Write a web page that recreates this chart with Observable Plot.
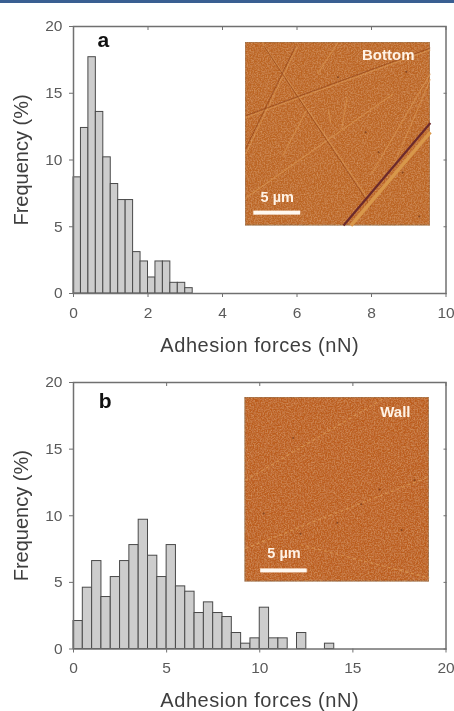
<!DOCTYPE html>
<html><head><meta charset="utf-8">
<script src="https://cdn.jsdelivr.net/npm/d3@7"></script>
<script src="https://cdn.jsdelivr.net/npm/@observablehq/plot@0.6"></script>
<style>
html,body{margin:0;padding:0;background:#fff;overflow:hidden}
#band{position:absolute;left:0;top:0;width:454px;height:3px;background:#3a5f92}
#charts svg{display:block;filter:blur(.45px);overflow:visible}
</style></head><body>
<div id="band"></div>
<svg width="0" height="0" style="position:absolute"><defs>
<filter id="grain" x="0" y="0" width="100%" height="100%">
<feTurbulence type="fractalNoise" baseFrequency="0.7" numOctaves="2" seed="4" result="n"/>
<feColorMatrix in="n" type="matrix" values="0 0 0 0 .88  0 0 0 0 .52  0 0 0 0 .24  .9 0 0 0 -.36" result="g"/>
<feColorMatrix in="n" type="matrix" values="0 0 0 0 .55  0 0 0 0 .22  0 0 0 0 .05  0 .9 0 0 -.36" result="h"/>
<feMerge><feMergeNode in="SourceGraphic"/><feMergeNode in="g"/><feMergeNode in="h"/></feMerge>
</filter></defs></svg>
<div id="charts"></div>
<script>
const xLabel = "Adhesion forces (nN)";
const yLabel = "Frequency (%)";
const yTicks = [0, 5, 10, 15, 20];

const xTicksA = [0, 2, 4, 6, 8, 10];
const binWidthA = 0.2;
const freqA = [8.7, 12.4, 17.7, 13.6, 10.2, 8.2, 7.0, 7.0, 3.1, 2.4, 1.2, 2.4, 2.4, 0.8, 0.8, 0.4];

const xTicksB = [0, 5, 10, 15, 20];
const binWidthB = 0.5;
const freqB = [2.1, 4.6, 6.6, 3.9, 5.4, 6.6, 7.8, 9.7, 7.0, 5.4, 7.8, 4.7, 4.3, 2.7, 3.5, 2.7, 2.4, 1.2, 0.4, 0.8, 3.1, 0.8, 0.8, 0, 1.2, 0, 0, 0.4];

// inset extents in data units: [x1, x2, y1, y2]
const insetA = [4.62, 9.58, 5.09, 18.8];
const insetB = [9.23, 19.1, 5.06, 18.87];

// scratches on the micrographs, as fractions of the inset: [fx1, fy1, fx2, fy2] (fy from top)
const scratchesDarkA = [[0,.40,1,.03],[.1,.02,.68,.9],[.0,.58,.27,.02]];
const scratchesLightA = [[0,.41,1,.04],[0,.85,.8,.28],[.09,0,.66,.85],[.68,.72,1,.17],[.79,.7,1,.2],[.39,.17,.5,0],[.55,.3,.52,.47],[.45,.37,.46,.44],[0,.61,.28,.02],[.2,.62,.33,.37]];
const grooveDarkA = [[.53,1,1,.44]];
const grooveLightA = [[.57,1,1,.49]];
const blobsA = [[.72,.6],[.85,.71],[.94,.95],[.5,.19],[.87,.16],[.65,.49]];
const scratchesLightB = [[0,.45,.76,0],[0,.82,1,.43],[.3,.8,1,.98]];
const blobsB = [[.26,.22],[.1,.63],[.63,.58],[.73,.5],[.5,.68],[.3,.74],[.85,.72],[.92,.45]];

function chart({freq, binWidth, xTicks, xMax, inset, label, labelAt, tag, tagAt, scale, scaleText, scaleTextGap, height, top, bottom, scratchD, scratchL, grooveD, grooveL, blobs, lightDash}) {
  const bars = freq.map((v, i) => ({x1: i * binWidth, x2: (i + 1) * binWidth, v})).filter(d => d.v > 0);
  const [ix1, ix2, iy1, iy2] = inset;
  const px = f => ix1 + f * (ix2 - ix1), py = f => iy2 - f * (iy2 - iy1);
  const seg = a => a.map(([a1, b1, a2, b2]) => ({x1: px(a1), y1: py(b1), x2: px(a2), y2: py(b2)}));
  const dots = blobs.map(([a, b]) => ({x: px(a), y: py(b)}));
  const axisColor = "#707070", txt = "#5a5a5a";
  const link = (arr, o) => Plot.link(seg(arr), {x1: "x1", y1: "y1", x2: "x2", y2: "y2", ...o});
  const fig = Plot.plot({
    width: 454, height,
    marginLeft: 73, marginRight: 8.5, marginTop: top, marginBottom: bottom,
    style: {background: "transparent", fontFamily: "'Liberation Sans', Arial, sans-serif"},
    x: {domain: [0, xMax]},
    y: {domain: [0, 20]},
    marks: [
      Plot.rectY(bars, {x1: "x1", x2: "x2", y1: 0, y2: "v", fill: "#cdcdcd", stroke: "#4a4a4a", strokeWidth: 1}),
      Plot.rect([inset], {x1: d => d[0], x2: d => d[1], y1: d => d[2], y2: d => d[3], fill: tag === "a" ? "#bb6422" : "#bb5b1b", stroke: "#8d6a50", strokeWidth: 1, imageFilter: "url(#grain)"}),
      link(scratchL, {stroke: "#dc9a55", strokeWidth: 1.2, strokeOpacity: lightDash ? .8 : .6, strokeDasharray: lightDash || null}),
      link(scratchD, {stroke: "#8c4018", strokeWidth: 1, strokeOpacity: .6}),
      link(grooveL, {stroke: "#d8974a", strokeWidth: 3.5}),
      link(grooveD, {stroke: "#6b2a2c", strokeWidth: 2.2}),
      Plot.dot(dots, {x: "x", y: "y", r: 1, fill: "#6e3418", fillOpacity: .7}),
      Plot.frame({stroke: axisColor, strokeWidth: 1.5}),
      Plot.axisX(xTicks, {anchor: "bottom", tickSize: 4, tickPadding: 9, fontSize: 15.5, stroke: axisColor, fill: txt, label: null}),
      Plot.axisX(xTicks, {anchor: "top", tickSize: -3, tickFormat: () => "", stroke: axisColor, label: null}),
      Plot.axisY(yTicks, {anchor: "left", tickSize: 4, tickPadding: 7, fontSize: 15.5, stroke: axisColor, fill: txt, label: null}),
      Plot.axisY(yTicks, {anchor: "right", tickSize: -3, tickFormat: () => "", stroke: axisColor, label: null}),
      Plot.text([xLabel], {frameAnchor: "bottom", dy: 58, fontSize: 20, fill: "#3e3e3e"}),
      Plot.text([yLabel], {frameAnchor: "left", textAnchor: "middle", dx: -52, rotate: -90, fontSize: 20, fill: "#3e3e3e"}),
      Plot.text([tag], {x: tagAt[0], y: tagAt[1], fontSize: 21, fontWeight: "bold", fill: "#111"}),
      Plot.text([label], {x: labelAt[0], y: labelAt[1], fontSize: 15, fontWeight: "bold", fill: "#fff3e6"}),
      Plot.rectY([scale], {x1: d => d[0], x2: d => d[1], y1: d => d[2], y2: d => d[3], fill: "#fff8f0"}),
      Plot.text([scaleText], {x: (scale[0] + scale[1]) / 2, y: scale[3] + scaleTextGap, fontSize: 14.5, fontWeight: "bold", fill: "#fff3e6"})
    ]
  });
  fig.querySelectorAll("text").forEach(t => { if (t.textContent === xLabel) t.style.letterSpacing = ".55px"; });
  return fig;
}

const host = document.getElementById("charts");
host.append(chart({
  freq: freqA, binWidth: binWidthA, xTicks: xTicksA, xMax: 10, inset: insetA,
  label: "Bottom", labelAt: [8.45, 17.83], tag: "a", tagAt: [0.8, 19.0],
  scale: [4.84, 6.1, 5.87, 6.17], scaleText: "5 µm", scaleTextGap: 1.05,
  height: 355, top: 26, bottom: 62, scratchD: scratchesDarkA, scratchL: scratchesLightA, grooveD: grooveDarkA, grooveL: grooveLightA, blobs: blobsA
}));
host.append(chart({
  freq: freqB, binWidth: binWidthB, xTicks: xTicksB, xMax: 20, inset: insetB,
  label: "Wall", labelAt: [17.28, 17.8], tag: "b", tagAt: [1.7, 18.6],
  scale: [10.05, 12.55, 5.71, 6.01], scaleText: "5 µm", scaleTextGap: 1.2,
  height: 356, top: 27, bottom: 62.5, scratchD: [], scratchL: scratchesLightB, grooveD: [], grooveL: [], blobs: blobsB, lightDash: "3,3"
}));
</script>
</body></html>
